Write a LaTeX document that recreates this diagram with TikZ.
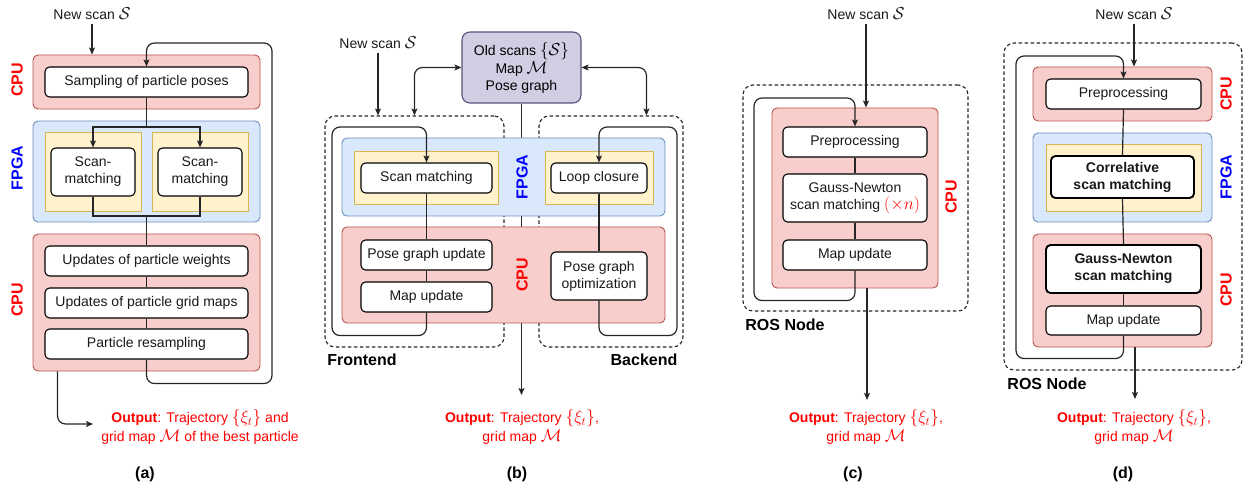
\documentclass[tikz,border=0pt]{standalone}
\usepackage{fontspec}
\setmainfont{Liberation Sans}
\usetikzlibrary{arrows.meta}
\pgfdeclarelayer{back}
\pgfdeclarelayer{cont}
\pgfdeclarelayer{lines}
\pgfsetlayers{back,cont,lines,main}
\definecolor{cpuF}{HTML}{F8CECC}\definecolor{cpuD}{HTML}{B85450}
\definecolor{fpgaF}{HTML}{DAE8FC}\definecolor{fpgaD}{HTML}{6C8EBF}
\definecolor{yelF}{HTML}{FFF2CC}\definecolor{yelD}{HTML}{D6B656}
\definecolor{oldF}{HTML}{D0CEE2}\definecolor{oldD}{HTML}{56517E}
\DeclareMathSizes{14}{16}{11.5}{9}
\newcommand\myfs{\fontsize{14}{17}\selectfont}
\newcommand\mybf{\bfseries\fontsize{16}{16}\selectfont}
\tikzset{
  rect/.style n args={4}{at={({(#1+#3)/2},{(#2+#4)/2})}, minimum width={(#3)-(#1)}, minimum height={(#4)-(#2)}},
  cpu/.style={fill=cpuF, draw=cpuD, line width=0.9pt, rounded corners=5pt, inner sep=0pt},
  fpga/.style={fill=fpgaF, draw=fpgaD, line width=0.9pt, rounded corners=5pt, inner sep=0pt},
  yel/.style={fill=yelF, draw=yelD, line width=0.9pt, inner sep=0pt},
  proc/.style={fill=white, draw=black, line width=1.1pt, rounded corners=4.5pt, inner sep=0pt, align=center, font=\myfs, text=black!90},
  bproc/.style={proc, line width=1.9pt, font=\bfseries\myfs},
  oldbox/.style={fill=oldF, draw=oldD, line width=1.1pt, rounded corners=8pt, inner sep=0pt, align=center, font=\myfs},
  dbox/.style={draw=black!85, line width=1.1pt, dash pattern=on 3.5pt off 2.5pt, rounded corners=10pt, inner sep=0pt},
  lbl/.style={font=\mybf, rotate=90},
  ttl/.style={font=\mybf},
  txt/.style={font=\myfs, text=black!90},
  outt/.style={font=\fontsize{14}{19}\selectfont, text=red, align=center},
  conn/.style={line width=1.2pt, draw=black!85},
  arr/.style={conn, -{Stealth[length=7pt,width=6pt,inset=1.5pt]}},
  darr/.style={conn, {Stealth[length=7pt,width=6pt,inset=1.5pt]}-{Stealth[length=7pt,width=6pt,inset=1.5pt]}},
}
\begin{document}
\begin{tikzpicture}[x=1pt,y=-1pt]
\useasboundingbox (0,0) rectangle (1254,489);

% ================= (a)
\begin{pgfonlayer}{cont}
\node[cpu, rect={33}{55}{260}{109}] (cpua1) {};
\node[fpga, rect={33}{121}{260}{222}] (fpgaa) {};
\node[yel, rect={45}{132}{141}{211}] (ya1) {};
\node[yel, rect={152}{132}{248}{211}] (ya2) {};
\node[cpu, rect={33}{234}{260}{371}] (cpua2) {};
\end{pgfonlayer}
\node[txt] (nsa) at (92,14) {New scan $\mathcal{S}$};
\node[proc, rect={45}{67}{248}{97}] (samp) {Sampling of particle poses};
\node[proc, rect={51}{148}{135}{196}] (sm1) {Scan-\\matching};
\node[proc, rect={158}{148}{242}{196}] (sm2) {Scan-\\matching};
\node[proc, rect={45}{246}{248}{276}] (upw) {Updates of particle weights};
\node[proc, rect={45}{288}{248}{318}] (upg) {Updates of particle grid maps};
\node[proc, rect={45}{329}{248}{359}] (res) {Particle resampling};
\node[lbl, text=red] (lca1) at (17,80) {CPU};
\node[lbl, text=blue] (lfa) at (17,168) {FPGA};
\node[lbl, text=red] (lca2) at (17,300) {CPU};
\node[outt] (outa) at (200,427) {\textbf{Output}: Trajectory $\{\xi_t\}$ and\\grid map $\mathcal{M}$ of the best particle};
\node[ttl] (capa) at (145,474) {(a)};
\coordinate (sa) at (146.5,127);
\coordinate (ma) at (146.5,216);
\coordinate (oae) at (93,424);
\begin{pgfonlayer}{lines}
\draw[arr] (nsa.south) -- (nsa.south |- cpua1.north);
\draw[conn] (samp.south) -- (sa);
\draw[arr] (sa) -| (sm1.north);
\draw[arr] (sa) -| (sm2.north);
\draw[conn] (sm1.south) |- (ma) -| (sm2.south);
\draw[conn] (ma) -- (upw.north);
\draw[conn] (upw.south) -- (upg.north);
\draw[conn] (upg.south) -- (res.north);
\draw[arr, rounded corners=8pt] (res.south) -- ++(0,24) -| (272,43) -| (samp.north);
\draw[arr, rounded corners=8pt] ([xshift=25pt]cpua2.south west) |- (oae);
\end{pgfonlayer}

% ================= (b)
\begin{pgfonlayer}{cont}
\node[dbox, rect={325}{116}{504}{347}] (fe) {};
\node[dbox, rect={539}{116}{683}{347}] (be) {};
\node[fpga, rect={342}{138}{665}{216}] (fpgab) {};
\node[yel, rect={354}{151}{498}{204}] (yb1) {};
\node[yel, rect={545}{151}{653}{204}] (yb2) {};
\node[cpu, rect={342}{227}{665}{323}] (cpub) {};
\end{pgfonlayer}
\node[txt] (nsb) at (378,43) {New scan $\mathcal{S}$};
\node[oldbox, rect={462}{32}{581}{103}] (old) {Old scans $\{\mathcal{S}\}$\\[1pt]Map $\mathcal{M}$\\Pose graph};
\node[proc, rect={361}{163}{492}{193}] (smb) {Scan matching};
\node[proc, rect={551}{163}{647}{193}] (lc) {Loop closure};
\node[proc, rect={361}{240}{492}{270}] (pgu) {Pose graph update};
\node[proc, rect={361}{282}{492}{312}] (mub) {Map update};
\node[proc, rect={551}{252}{647}{300}] (pgo) {Pose graph\\optimization};
\node[lbl, text=blue] (lfb) at (522,177) {FPGA};
\node[lbl, text=red] (lcb) at (522,275) {CPU};
\node[ttl] (fet) at (362,360) {Frontend};
\node[ttl] (bet) at (644,360) {Backend};
\node[outt] (outb) at (522,427) {\textbf{Output}: Trajectory $\{\xi_t\}$,\\grid map $\mathcal{M}$};
\node[ttl] (capb) at (517,474) {(b)};
\coordinate (obe) at (521.5,395);
\begin{pgfonlayer}{back}
\draw[arr] (old.south) -- (obe);
\end{pgfonlayer}
\begin{pgfonlayer}{lines}
\draw[arr] (nsb.south) -- (nsb.south |- fe.north);
\draw[darr, rounded corners=8pt] (old.west) -| ([xshift=90pt]fe.north west);
\draw[darr, rounded corners=8pt] (old.east) -| ([xshift=108pt]be.north west);
\draw[arr, rounded corners=8pt] (mub.south) -- ++(0,23) -| (332,127) -| (smb.north);
\draw[conn] (smb.south) -- (pgu.north);
\draw[conn] (pgu.south) -- (mub.north);
\draw[arr, rounded corners=8pt] (pgo.south) -- ++(0,35) -| (677,127) -| (lc.north);
\draw[conn] (lc.south) -- (pgo.north);
\end{pgfonlayer}

% ================= (c)
\begin{pgfonlayer}{cont}
\node[dbox, rect={743}{85}{968}{311}] (rosc) {};
\node[cpu, rect={772}{108}{938}{288}] (cpuc) {};
\end{pgfonlayer}
\node[txt] (nsc) at (866,14) {New scan $\mathcal{S}$};
\node[proc, rect={783}{127}{927}{157}] (ppc) {Preprocessing};
\node[proc, rect={783}{174}{927}{222}] (gnc) {Gauss-Newton\\scan matching {\color{red}$(\times n)$}};
\node[proc, rect={783}{240}{927}{270}] (muc) {Map update};
\node[lbl, text=red] (lcc) at (951,197) {CPU};
\node[ttl] (rosct) at (785,325) {ROS Node};
\node[outt] (outc) at (866,427) {\textbf{Output}: Trajectory $\{\xi_t\}$,\\grid map $\mathcal{M}$};
\node[ttl] (capc) at (853,474) {(c)};
\coordinate (oce) at (867,400);
\begin{pgfonlayer}{lines}
\draw[arr] (nsc.south) -- (nsc.south |- cpuc.north);
\draw[arr, rounded corners=8pt] (muc.south) -- ++(0,30) -| (754,98) -| (ppc.north);
\draw[conn] (ppc.south) -- (gnc.north);
\draw[conn] (gnc.south) -- (muc.north);
\draw[arr] ([xshift=12pt]cpuc.south) -- (oce);
\end{pgfonlayer}

% ================= (d)
\begin{pgfonlayer}{cont}
\node[dbox, rect={1004}{43}{1242}{370}] (rosd) {};
\node[cpu, rect={1033}{67}{1212}{121}] (cpud1) {};
\node[fpga, rect={1033}{133}{1212}{222}] (fpgad) {};
\node[yel, rect={1046}{144}{1201}{211}] (yd) {};
\node[cpu, rect={1033}{234}{1212}{347}] (cpud2) {};
\end{pgfonlayer}
\node[txt] (nsd) at (1134,14) {New scan $\mathcal{S}$};
\node[proc, rect={1046}{79}{1201}{109}] (ppd) {Preprocessing};
\node[bproc, rect={1051}{156}{1194}{198}] (corr) {Correlative\\scan matching};
\node[bproc, rect={1046}{245}{1201}{293}] (gnd) {Gauss-Newton\\scan matching};
\node[proc, rect={1046}{306}{1201}{335}] (mud) {Map update};
\node[lbl, text=red] (lcd1) at (1226,94) {CPU};
\node[lbl, text=blue] (lfd) at (1226,177) {FPGA};
\node[lbl, text=red] (lcd2) at (1226,290) {CPU};
\node[ttl] (rosdt) at (1047,384) {ROS Node};
\node[outt] (outd) at (1134,427) {\textbf{Output}: Trajectory $\{\xi_t\}$,\\grid map $\mathcal{M}$};
\node[ttl] (capd) at (1123,474) {(d)};
\coordinate (ode) at (1135,399);
\begin{pgfonlayer}{lines}
\draw[arr] (nsd.south) -- (nsd.south |- cpud1.north);
\draw[arr, rounded corners=8pt] (mud.south) -- ++(0,23) -| (1016,56) -| (ppd.north);
\draw[conn] (ppd.south) -- (corr.north);
\draw[conn] (corr.south) -- (gnd.north);
\draw[conn] (gnd.south) -- (mud.north);
\draw[arr] ([xshift=12.5pt]cpud2.south) -- (ode);
\end{pgfonlayer}
\end{tikzpicture}
\end{document}
